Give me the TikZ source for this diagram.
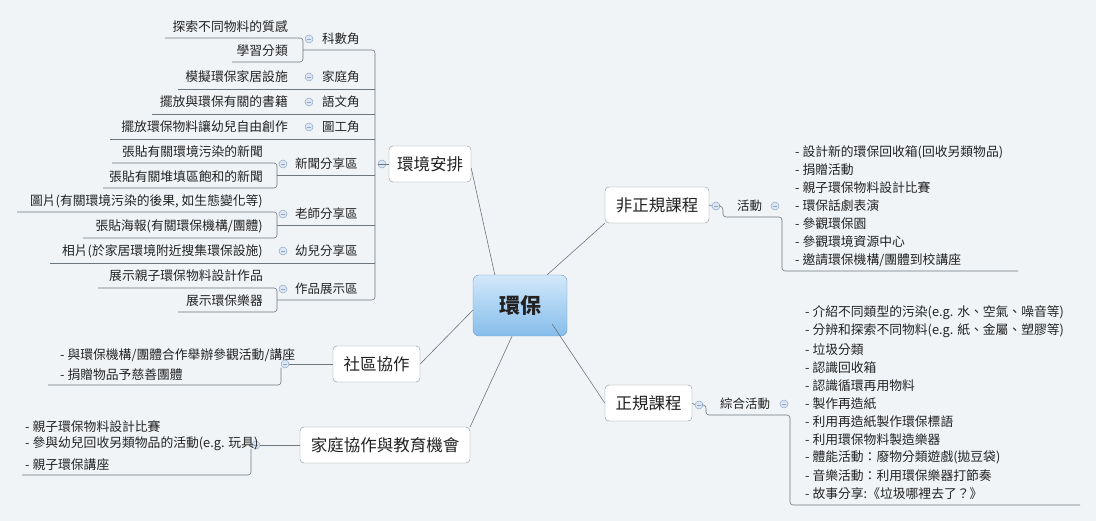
\documentclass[tikz,border=0pt]{standalone}
\usepackage{fontspec}
\setmainfont{Noto Sans CJK TC}
\definecolor{bgc}{HTML}{F1F4F7}
\definecolor{linec}{HTML}{6E767E}
\definecolor{boxc}{HTML}{8A9096}
\definecolor{txt}{HTML}{222222}
\definecolor{togc}{HTML}{8FA8C8}
\definecolor{togf}{HTML}{DCE6F2}
\definecolor{rtop}{HTML}{D2E8FA}
\definecolor{rbot}{HTML}{86BDEB}
\definecolor{rdraw}{HTML}{6F9CC4}
\tikzset{
 leaf/.style={font=\fontsize{12.8}{14}\selectfont, inner sep=0pt, text=txt},
 sub/.style={font=\fontsize{12.5}{14}\selectfont, inner sep=0pt, text=txt, anchor=west},
 mainbox/.style={draw=boxc, rounded corners=4pt, fill=white, font=\fontsize{16.5}{18}\selectfont, inner sep=0pt, minimum height=36pt, text=txt},
 ln/.style={draw=linec, line width=0.6pt, rounded corners=3pt},
 tog/.style={circle, draw=togc, fill=togf, inner sep=0pt, minimum size=8pt, line width=0.5pt,
   path picture={\draw[togc,line width=0.6pt] ([xshift=-2pt]path picture bounding box.center) -- ([xshift=2pt]path picture bounding box.center);}},
}
\begin{document}
\begin{tikzpicture}[x=1pt,y=-1pt]
\fill[bgc] (0,0) rectangle (1096,521);
\useasboundingbox (0,0) rectangle (1096,521);
% central
\node[draw=rdraw, rounded corners=6pt, top color=rtop, bottom color=rbot, minimum width=94pt, minimum height=61pt, font=\fontsize{21}{23}\selectfont\bfseries, text=txt] (root) at (520,305.5) {環保};
% main boxes
\node[mainbox, minimum width=82pt] (env) at (430,164) {環境安排};
\node[mainbox, minimum width=104pt] (inf) at (657,205) {非正規課程};
\node[mainbox, minimum width=87pt] (for) at (648.5,403) {正規課程};
\node[mainbox, minimum width=87pt] (com) at (376.5,364) {社區協作};
\node[mainbox, minimum width=170pt] (fam) at (385,445) {家庭協作與教育機會};
% center links
\draw[ln] (root.north west) ++(22,0) -- (env.east |- 0,168);
\draw[ln] (root.north east) ++(-20,0) -- (inf.south west);
\draw[ln] (root.south east) ++(-15,-12) -- (for.west);
\draw[ln] (root.south west) ++(0,-26) -- (com.east);
\draw[ln] (root.south) ++(-8,0) -- (fam.north east);

% ===== 環境安排 =====
\node[tog] (t0) at (382,164) {};
\draw[ln] (t0.west) -- (env.west |- t0);
\draw[ln] (303,50) -- (375,50) -- (375,300) -- (277,300);
% 科數角
\node[sub] (k1) at (322,39) {科數角}; \node[tog] at (309,39) {};
\node[leaf,anchor=east] (k1a) at (288,27) {探索不同物料的質感};
\node[leaf,anchor=east] (k1b) at (288,51) {學習分類};
\draw[ln] (165,38) -- (303,38) -- (303,62) -- (232,62);
% single-child rows
\foreach \y/\lab/\txt/\x in {77/家庭角/模擬環保家居設施/178, 102/語文角/擺放與環保有關的書籍/152, 127/圖工角/擺放環保物料讓幼兒自由創作/110}{
  \node[sub] at (322,\y) {\lab}; \node[tog] at (309,\y) {};
  \node[leaf,anchor=east] at (288,\y) {\txt};
  \draw[ln] (\x,\y+12) -- (375,\y+12);
}
% 新聞分享區
\node[sub] (n1) at (295,164) {新聞分享區}; \node[tog] at (283,164) {};
\draw[ln] (277,175) -- (375,175);
\node[leaf,anchor=east] at (263,152) {張貼有關環境污染的新聞};
\node[leaf,anchor=east] at (263,177) {張貼有關堆填區飽和的新聞};
\draw[ln] (112,163) -- (277,163) -- (277,188) -- (103,188);
% 老師分享區
\node[sub] (n2) at (295,214) {老師分享區}; \node[tog] at (283,214) {};
\draw[ln] (277,225) -- (375,225);
\node[leaf,anchor=east] at (263,201) {圖片(有關環境污染的後果, 如生態變化等)};
\node[leaf,anchor=east] at (263,226) {張貼海報(有關環保機構/團體)};
\draw[ln] (17,212) -- (277,212) -- (277,238) -- (83,238);
% 幼兒分享區
\node[sub] (n3) at (295,251) {幼兒分享區}; \node[tog] at (283,251) {};
\node[leaf,anchor=east] at (263,251) {相片(於家居環境附近搜集環保設施)};
\draw[ln] (50,263) -- (375,263);
% 作品展示區
\node[sub] (n4) at (295,289) {作品展示區}; \node[tog] at (283,289) {};
\node[leaf,anchor=east] at (263,276) {展示親子環保物料設計作品};
\node[leaf,anchor=east] at (263,301) {展示環保樂器};
\draw[ln] (98,288) -- (277,288) -- (277,312) -- (178,312);

% ===== 社區協作 =====
\node[tog] (t1) at (285,364) {};
\draw[ln] (t1.east) -- (com.west);
\node[leaf,anchor=west] at (60,355) {- 與環保機構/團體合作舉辦參觀活動/講座};
\node[leaf,anchor=west] at (60,375) {- 捐贈物品予慈善團體};
\draw[ln] (281,368) -- (281,385) -- (48,385);

% ===== 家庭協作 =====
\node[tog] (t2) at (256,445) {};
\draw[ln] (t2.east) -- (fam.west);
\node[leaf,anchor=west] at (25,427) {- 親子環保物料設計比賽};
\node[leaf,anchor=west] at (25,444) {- 參與幼兒回收另類物品的活動(e.g. 玩具)};
\node[leaf,anchor=west] at (25,465) {- 親子環保講座};
\draw[ln] (251,449) -- (251,475) -- (22,475);

% ===== 非正規課程 =====
\node[tog] (t3) at (716,206) {};
\draw[ln] (inf.east) -- (t3.west);
\draw[ln] (t3.east) -- (723,207) -- (723,217) -- (782,217) -- (782,271) -- (1018,271);
\node[sub] at (737,206) {活動}; \node[tog] at (775,206) {};
\foreach \t [count=\i from 0] in {設計新的環保回收箱(回收另類物品),捐贈活動,親子環保物料設計比賽,環保話劇表演,參觀環保園,參觀環境資源中心,邀請環保機構/團體到校講座}{
  \node[leaf,anchor=west] at (795,152+18*\i) {- \t};
}

% ===== 正規課程 =====
\node[tog] (t4) at (699,405) {};
\draw[ln] (for.east) -- (t4.west);
\draw[ln] (t4.east) -- (706,405) -- (706,415) -- (790,415) -- (790,505) -- (1080,505);
\node[sub] at (720,404) {綜合活動}; \node[tog] at (784,404) {};
\foreach \t [count=\i from 0] in {介紹不同類型的污染(e.g. 水、空氣、噪音等),分辨和探索不同物料(e.g. 紙、金屬、塑膠等),垃圾分類,認識回收箱,認識循環再用物料,製作再造紙,利用再造紙製作環保標語,利用環保物料製造樂器,體能活動：廢物分類遊戲(拋豆袋),音樂活動：利用環保樂器打節奏,故事分享:《垃圾哪裡去了？》}{
  \node[leaf,anchor=west] at (805,313+18.1*\i) {- \t};
}
\end{tikzpicture}
\end{document}
